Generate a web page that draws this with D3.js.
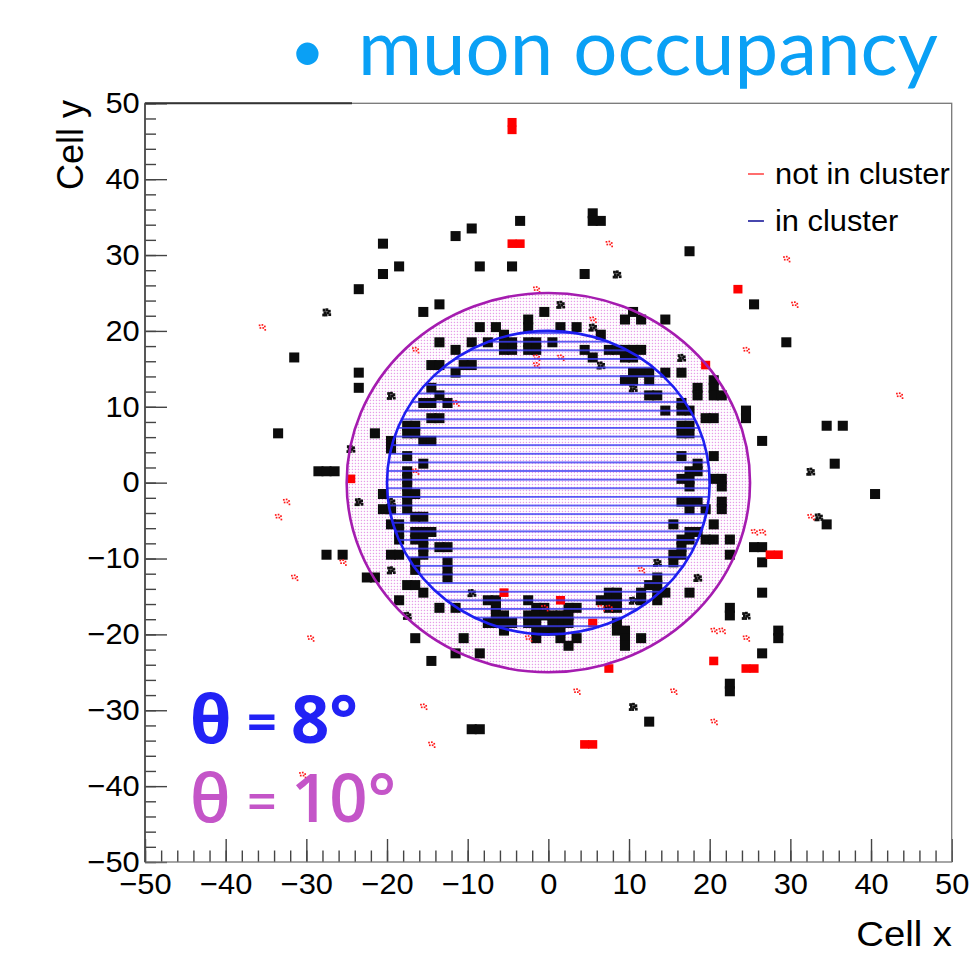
<!DOCTYPE html>
<html>
<head>
<meta charset="utf-8">
<script src="https://cdn.jsdelivr.net/npm/d3@7"></script>
<style>
  body { margin: 0; background: #ffffff; }
  svg { display: block; }
</style>
</head>
<body>
<svg id="chart" width="974" height="966"></svg>
<script>
// ---- data -------------------------------------------------------------
const xTicks = d3.range(-50, 51, 10);
const yTicks = d3.range(-50, 51, 10);
const minorTicks = d3.range(-50, 51, 2);

// cone opening angles and the matching radii in cells
const coneAngles = [8, 10];
const coneRadii = [20, 25];

// cells hit by muons that belong to a cluster (dense hits)
const inCluster = [
  [-4,34],[-10,33],[-12,32],[-21,31],[-19,28],[-9,28],[-5,28],[-21,27],[-24,25],[-14,23],[-16,22],
  [-32,16],[-24,14],[-24,12],[-34,6],[-29,1],[-28,1],[-27,1],[-28,-10],[-26,-10],[-23,-13],[-22,-13],
  [-15,-24],[-17,-21],[-10,-33],[-9,-33],
  [5,35],[5,34],[6,34],[17,30],[4,27],[25,23],[29,18],[24,9],[24,8],[26,5],[34,7],[36,7],[35,2],
  [40,-2],[34,-6],[25,-9],[26,-9],[26,-11],[26,-15],[22,-17],[22,-18],[28,-20],[28,-21],[26,-23],
  [22,-27],[22,-28],[12,-32],
  [-1,22],[-9,20],[-7,20],[-3,21],[-3,20],[-6,19],[-6,18],[-5,18],[-6,17],[-5,17],[-8,18],[-10,18],
  [-14,18],[-12,17],[-3,18],[-2,18],[-3,17],[-2,17],[0,18],[-15,15],[-14,15],[-11,15],[-10,15],
  [-12,14],[-15,12],[-14,11],[-16,10],[-15,10],[-13,10],[-15,8],[-14,8],[-18,7],[-17,7],[-18,6],
  [-17,6],[-22,6],[-16,5],[-15,5],[-20,5],[-20,4],[-18,3],[-16,2],[-18,1],[-18,0],[-18,-1],
  [1,20],[3,20],[6,19],[9,21],[11,21],[10,22],[14,21],[4,17],[5,16],[7,17],[8,17],[9,17],[10,17],
  [11,17],[9,16],[10,16],[16,14],[10,14],[11,14],[12,14],[9,13],[10,13],[12,13],[14,14],[18,12],
  [18,11],[20,13],[20,12],[20,11],[21,11],[12,11],[13,11],[14,9],[16,10],[16,9],[17,9],[19,8],
  [20,8],[16,7],[17,7],[16,6],[17,6],[16,3],[18,2],[20,3],[17,1],[18,1],[16,0],[17,0],[21,0],[20,0],
  [16,-3],[17,-3],[18,-3],[21,-3],[21,-4],[17,-4],[19,-4],[17,-1],[21,-1],[15,-6],[20,-6],[17,-7],
  [18,-7],[16,-8],[17,-8],[16,-9],[19,-8],[20,-8],[22,-8],[22,-10],[15,-10],[16,-10],[15,-11],
  [17,-15],[13,-13],[13,-14],[12,-14],[13,-15],[14,-15],[11,-15],[11,-16],[13,-16],
  [7,-15],[8,-15],[7,-16],[8,-16],[7,-17],[8,-17],[6,-16],[3,-17],[0,-18],[1,-18],[2,-18],[1,-19],
  [0,-19],[1,-20],[0,-20],[8,-19],[8,-20],[9,-20],[9,-21],[9,-22],[11,-21],[2,-22],[3,-21],[1,-21],
  [-21,-2],[-18,-2],[-17,-2],[-18,-3],[-21,-4],[-20,-4],[-18,-4],[-17,-5],[-16,-5],[-20,-6],
  [-19,-6],[-19,-7],[-17,-7],[-16,-7],[-15,-7],[-19,-8],[-17,-8],[-16,-8],[-16,-9],[-14,-9],
  [-13,-9],[-16,-10],[-20,-10],[-19,-10],[-17,-11],[-13,-11],[-17,-12],[-13,-12],[-13,-13],
  [-18,-14],[-17,-14],[-16,-15],[-19,-16],[-14,-17],[-12,-17],[-11,-21],[-12,-23],[-9,-23],
  [-8,-16],[-7,-16],[-7,-17],[-7,-18],[-6,-18],[-8,-19],[-7,-19],[-6,-19],[-5,-19],[-6,-20],
  [-3,-16],[-2,-17],[-1,-17],[-3,-18],[-2,-18],[-1,-18],[-3,-19],[-2,-19],[-2,-20],[-1,-20],
  [-2,-21],[2,-17],[2,-19]
];

// cluster cells with only a few hits
const inClusterSparse = [
  [-28,22],[-20,11],[-25,4],[-24,-3],[-20,-3],[-20,-12],[-18,-18],[-10,-15],[8,27],[16,16],
  [10,12],[32,1],[33,-5],[13,-11],[18,-13],[10,-30],[24,-18],[1,23],[5,20],[6,15],[10,-16]
];

// cells hit outside any cluster (dense hits)
const notInCluster = [
  [-25,0],[23,25],[19,15],[-6,-15],[1,-16],[5,-19],[7,-25],[20,-24],[-4,31],[-5,31],
  [27,-10],[28,-10],[24,-25],[25,-25],[4,-35],[5,-35],[-5,46],[-5,47]
];

// isolated hits outside any cluster
const notInClusterSparse = [
  [-2,25],[7,31],[29,29],[30,23],[24,17],[5,21],[1,16],[-2,16],[-2,15],[-17,17],[-12,10],[-36,20],
  [-17,1],[-33,-3],[-34,-5],[-26,-11],[-32,-13],[-30,-21],[-16,-30],[-15,-35],[-31,-39],[-1,-17],
  [-3,-21],[6,-17],[7,-17],[11,-12],[25,-7],[26,-7],[20,-20],[21,-20],[24,-21],[3,-28],[15,-28],
  [20,-32],[43,11],[32,-5]
];

const legendLabels = ["not in cluster", "in cluster"];
const legendColors = ["#ff4a4a", "#1a1a9a"];

// ---- layout -----------------------------------------------------------
const svg = d3.select('#chart');
const frame = { left: 145, right: 951.7, top: 103.3, bottom: 862 };
const x = d3.scaleLinear().domain([-50, 50]).range([frame.left, frame.right]);
const y = d3.scaleLinear().domain([-50, 50]).range([frame.bottom, frame.top]);
const SX = 1.063;                       // horizontal text stretch of the canvas
const helv = '"Liberation Sans", Arial, Helvetica, sans-serif';

const defs = svg.append('defs');

// fine magenta dot fill for the 10 degree cone
const dots = defs.append('pattern').attr('id', 'dots')
  .attr('patternUnits', 'userSpaceOnUse').attr('width', 3).attr('height', 3);
dots.append('rect').attr('x', 0.8).attr('y', 0.8).attr('width', 1.3).attr('height', 1.3)
  .attr('fill', '#d65ad9').attr('opacity', 0.6);

// horizontal blue hatching for the 8 degree cone
const hatchStep = 8.62;
const hatch = defs.append('pattern').attr('id', 'hatch')
  .attr('patternUnits', 'userSpaceOnUse').attr('width', 20).attr('height', hatchStep)
  .attr('y', 341.7 - 0.9);
hatch.append('rect').attr('x', 0).attr('y', 0).attr('width', 20).attr('height', 1.8)
  .attr('fill', '#3c3cf2').attr('opacity', 0.85);

const cx = x(0), cy = y(0);
const rx = r => x(r) - x(0);
const ry = r => y(0) - y(r);

// 10 degree cone fill (drawn below the hits)
svg.append('ellipse')
  .attr('cx', cx).attr('cy', cy).attr('rx', rx(coneRadii[1])).attr('ry', ry(coneRadii[1]))
  .attr('fill', 'url(#dots)');

// ---- cells ------------------------------------------------------------
const cw = x(1) - x(0), ch = y(0) - y(1);
const padX = 1.0, padY = 1.2;
const cells = svg.append('g');

cells.selectAll('rect.in').data(inCluster).join('rect').attr('class', 'in')
  .attr('x', d => x(d[0]) - padX).attr('y', d => y(d[1] + 1) - padY)
  .attr('width', cw + 2 * padX).attr('height', ch + 2 * padY)
  .attr('fill', '#0c0c0c');

const sparseOffsets = [[0.1,0.15],[0.45,0.1],[0.75,0.3],[0.2,0.5],[0.55,0.5],[0.8,0.75],[0.35,0.8],[0.05,0.8]];

cells.selectAll('g.inS').data(inClusterSparse).join('g').attr('class', 'inS')
  .each(function (d) {
    d3.select(this).selectAll('rect').data(sparseOffsets).join('rect')
      .attr('x', o => x(d[0] + o[0]) - 0.6).attr('y', o => y(d[1] + 1 - o[1]) - 0.6)
      .attr('width', 2.8).attr('height', 2.8).attr('fill', '#111');
  });

cells.selectAll('rect.out').data(notInCluster).join('rect').attr('class', 'out')
  .attr('x', d => x(d[0]) - 0.5).attr('y', d => y(d[1] + 1) - 0.5)
  .attr('width', cw + 1).attr('height', ch + 1)
  .attr('fill', '#ff0000');

cells.selectAll('g.outS').data(notInClusterSparse).join('g').attr('class', 'outS')
  .each(function (d) {
    d3.select(this).selectAll('rect').data(sparseOffsets.slice(0, 6)).join('rect')
      .attr('x', o => x(d[0] + o[0])).attr('y', o => y(d[1] + 1 - o[1]))
      .attr('width', 1.7).attr('height', 1.7).attr('fill', '#ff1a1a');
  });

// 8 degree cone hatching and both cone outlines
svg.append('ellipse')
  .attr('cx', cx).attr('cy', cy).attr('rx', rx(coneRadii[0])).attr('ry', ry(coneRadii[0]))
  .attr('fill', 'url(#hatch)');
svg.append('ellipse')
  .attr('cx', cx).attr('cy', cy).attr('rx', rx(coneRadii[1])).attr('ry', ry(coneRadii[1]))
  .attr('fill', 'none').attr('stroke', '#a51cb0').attr('stroke-width', 2.6);
svg.append('ellipse')
  .attr('cx', cx).attr('cy', cy).attr('rx', rx(coneRadii[0])).attr('ry', ry(coneRadii[0]))
  .attr('fill', 'none').attr('stroke', '#1e1ef0').attr('stroke-width', 2.6);

// ---- axes -------------------------------------------------------------
const axisColor = '#444';
const fmt = d => d < 0 ? '\u2212' + Math.abs(d) : String(d);

function styleAxis(g) {
  g.select('.domain').remove();
  g.selectAll('line').attr('stroke', axisColor).attr('stroke-width', 1.4);
  g.selectAll('text').attr('fill', '#000').style('font-family', helv).style('font-size', '29px');
}

svg.append('g').attr('transform', `translate(0,${frame.bottom})`)
  .call(d3.axisBottom(x).tickValues(minorTicks).tickSizeInner(-11.5).tickSizeOuter(0).tickFormat(''))
  .call(styleAxis);
svg.append('g').attr('transform', `translate(${frame.left},0)`)
  .call(d3.axisLeft(y).tickValues(minorTicks).tickSizeInner(-11).tickSizeOuter(0).tickFormat(''))
  .call(styleAxis);

const xAxis = svg.append('g').attr('transform', `translate(0,${frame.bottom})`)
  .call(d3.axisBottom(x).tickValues(xTicks).tickSizeInner(-23).tickSizeOuter(0)
    .tickPadding(11).tickFormat(fmt))
  .call(styleAxis);
xAxis.selectAll('text').attr('transform', `scale(${SX},1)`);

const yAxis = svg.append('g').attr('transform', `translate(${frame.left},0)`)
  .call(d3.axisLeft(y).tickValues(yTicks).tickSizeInner(-22).tickSizeOuter(0)
    .tickPadding(5).tickFormat(fmt))
  .call(styleAxis);
yAxis.selectAll('text').attr('transform', `scale(${SX},1)`);

// frame
svg.append('rect')
  .attr('x', frame.left).attr('y', frame.top)
  .attr('width', frame.right - frame.left).attr('height', frame.bottom - frame.top)
  .attr('fill', 'none').attr('stroke', '#777').attr('stroke-width', 1.3);
svg.append('line')
  .attr('x1', frame.left).attr('x2', 352).attr('y1', frame.top).attr('y2', frame.top)
  .attr('stroke', '#333').attr('stroke-width', 2);
svg.append('line')
  .attr('x1', frame.left).attr('x2', frame.left).attr('y1', frame.top).attr('y2', frame.bottom)
  .attr('stroke', axisColor).attr('stroke-width', 1.6);

// axis titles
svg.append('g').attr('transform', `translate(952,946) scale(${SX},1)`)
  .append('text').attr('text-anchor', 'end')
  .style('font-family', helv).style('font-size', '36px').text('Cell x');
svg.append('g').attr('transform', `translate(83,100) rotate(-90)`)
  .append('text').attr('text-anchor', 'end')
  .style('font-family', helv).style('font-size', '36px').text('Cell y');

// ---- legend -----------------------------------------------------------
const legend = svg.append('g');
legendLabels.forEach((label, i) => {
  const ly = 174 + i * 47;
  legend.append('line').attr('x1', 748).attr('x2', 764).attr('y1', ly).attr('y2', ly)
    .attr('stroke', legendColors[i]).attr('stroke-width', 1.6);
  legend.append('g').attr('transform', `translate(775,${ly + 10}) scale(${SX},1)`)
    .append('text').style('font-family', helv).style('font-size', '29px').text(label);
});

// ---- cone labels ------------------------------------------------------
const coneColors = ['#2222f5', '#c455c8'];
const coneWeights = [700, 600];
const coneBaselines = [743, 822];
coneAngles.forEach((deg, i) => {
  const g = svg.append('g').attr('fill', coneColors[i])
    .style('font-family', '"Open Sans", Lato, sans-serif')
    .style('font-weight', coneWeights[i]).style('font-size', '67px');
  g.append('text').attr('x', 190).attr('y', coneBaselines[i]).text('\u03b8');
  g.append('text').attr('x', 247).attr('y', coneBaselines[i] - 2).style('font-size', '52px').text('=');
  g.append('text').attr('x', 291).attr('y', coneBaselines[i]).text(deg + '\u00b0');
});

// ---- slide heading ----------------------------------------------------
const headColor = '#0aa0f5';
svg.append('text').attr('x', 290).attr('y', 72).attr('fill', headColor)
  .style('font-family', 'Lato, "Open Sans", sans-serif').style('font-size', '60px').text('\u2022');
const head = svg.append('text').attr('x', 358).attr('y', 75).attr('fill', headColor)
  .style('font-family', 'Lato, "Open Sans", sans-serif').style('font-size', '80px')
  .text('muon occupancy');
const hw = head.node().getComputedTextLength();
head.style('font-size', (80 * 580 / hw) + 'px');
</script>
</body>
</html>
